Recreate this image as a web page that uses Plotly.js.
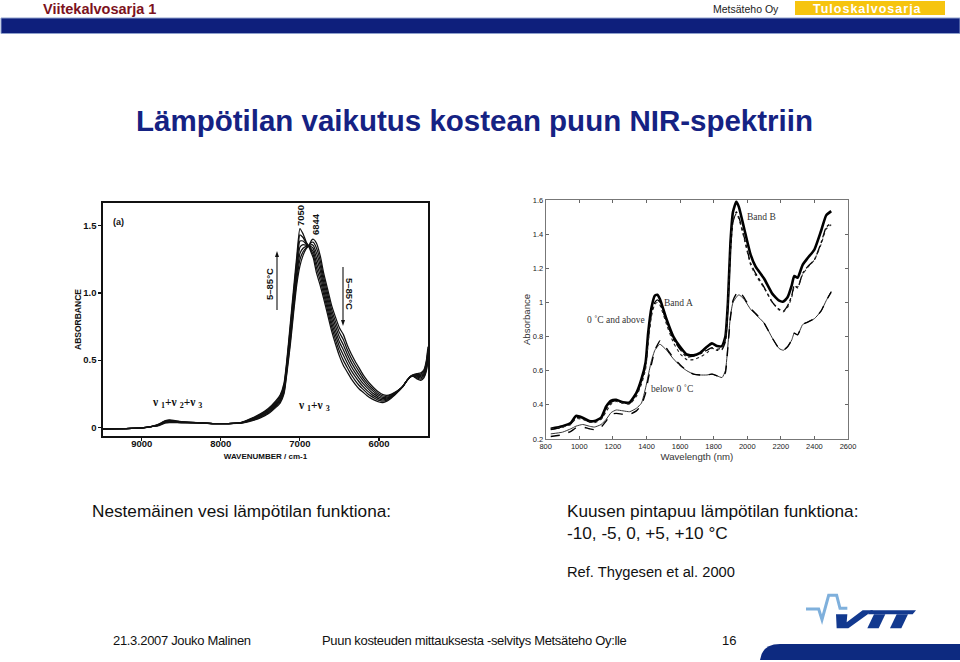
<!DOCTYPE html>
<html><head><meta charset="utf-8">
<script src="https://cdn.plot.ly/plotly-3.0.1.min.js"></script>
<style>html,body{margin:0;padding:0;background:#fff}#c{width:960px;height:662px}</style>
</head><body><div id="c"></div>
<script>
// Left panel: liquid water, wavenumber (cm-1)
const wavenumber=[9490,9200,9000,8900,8800,8700,8650,8500,8300,8100,7900,7750,7600,7500,7400,7300,7250,7200,7165,7120,7080,7040,7000,6960,6920,6890,6850,6830,6790,6740,6700,6650,6600,6550,6500,6450,6400,6350,6300,6250,6200,6150,6100,6050,6000,5950,5900,5850,5800,5750,5700,5650,5600,5570,5520,5470,5430,5400,5380];
const t85=[-.012,-.01,-.005,.002,.02,.05,.055,.042,.035,.028,.028,.035,.07,.1,.14,.2,.24,.33,.5,.78,1.03,1.27,1.48,1.44,1.38,1.35,1.29,1.26,1.15,1.05,.96,.84,.72,.62,.53,.46,.41,.36,.32,.285,.26,.235,.215,.2,.188,.184,.195,.215,.24,.27,.3,.345,.375,.38,.36,.35,.37,.42,.5];
const t72=[-.012,-.01,-.005,.002,.018,.047,.052,.04,.035,.028,.028,.034,.067,.095,.133,.192,.23,.317,.483,.753,1.0,1.235,1.433,1.413,1.372,1.35,1.308,1.283,1.187,1.087,.992,.872,.752,.653,.565,.498,.443,.391,.348,.311,.282,.254,.232,.214,.2,.194,.202,.22,.243,.272,.301,.345,.376,.382,.367,.359,.38,.433,.517];
const t58=[-.012,-.01,-.005,.003,.017,.044,.048,.039,.034,.028,.028,.033,.063,.09,.127,.183,.22,.303,.467,.727,.97,1.2,1.387,1.387,1.363,1.35,1.325,1.307,1.223,1.123,1.023,.903,.783,.687,.6,.537,.477,.422,.377,.337,.303,.273,.248,.228,.212,.204,.209,.225,.247,.273,.302,.345,.377,.383,.373,.368,.39,.447,.533];
const t45=[-.012,-.01,-.005,.003,.015,.041,.045,.038,.034,.028,.028,.033,.06,.085,.12,.175,.21,.29,.45,.7,.94,1.165,1.34,1.36,1.355,1.35,1.343,1.33,1.26,1.16,1.055,.935,.815,.72,.635,.575,.51,.453,.405,.363,.325,.293,.265,.243,.224,.214,.217,.23,.25,.275,.303,.345,.378,.385,.38,.378,.4,.46,.55];
const t32=[-.012,-.01,-.005,.003,.013,.038,.042,.036,.033,.028,.028,.032,.057,.08,.113,.167,.2,.277,.433,.673,.91,1.13,1.293,1.333,1.347,1.35,1.36,1.353,1.297,1.197,1.087,.967,.847,.753,.67,.613,.543,.483,.433,.388,.347,.312,.282,.257,.236,.223,.224,.235,.253,.277,.303,.345,.378,.387,.387,.387,.41,.473,.567];
const t18=[-.012,-.01,-.005,.004,.012,.035,.038,.035,.033,.028,.028,.031,.053,.075,.107,.158,.19,.263,.417,.647,.88,1.095,1.247,1.307,1.338,1.35,1.378,1.377,1.333,1.233,1.118,.998,.878,.787,.705,.652,.577,.514,.462,.414,.368,.331,.298,.271,.248,.233,.231,.24,.257,.278,.304,.345,.379,.388,.393,.396,.42,.487,.583];
const t5=[-.012,-.01,-.005,.004,.01,.032,.035,.033,.032,.028,.027,.03,.05,.07,.1,.15,.18,.25,.4,.62,.85,1.06,1.2,1.28,1.33,1.35,1.395,1.4,1.37,1.27,1.15,1.03,.91,.82,.74,.69,.61,.545,.49,.44,.39,.35,.315,.285,.26,.243,.238,.245,.26,.28,.305,.345,.38,.39,.4,.405,.43,.5,.6];
// Right panel: spruce wood surface, wavelength (nm)
const wavelength=[830,900,950,980,1020,1060,1090,1130,1160,1190,1220,1260,1300,1340,1370,1395,1410,1430,1450,1465,1480,1520,1560,1600,1640,1680,1720,1760,1790,1820,1850,1870,1885,1900,1915,1935,1950,1980,2020,2050,2100,2150,2190,2215,2240,2265,2280,2300,2330,2360,2400,2440,2470,2500];
const plus10=[.26,.275,.295,.335,.325,.305,.305,.325,.39,.425,.43,.415,.415,.47,.55,.65,.82,.97,1.04,1.045,1.02,.9,.8,.74,.695,.69,.705,.74,.76,.745,.745,.8,1.0,1.35,1.53,1.59,1.56,1.44,1.28,1.21,1.14,1.05,1.01,1.005,1.03,1.1,1.155,1.145,1.22,1.26,1.31,1.42,1.51,1.535];
const plus5=[.255,.27,.29,.325,.32,.3,.3,.32,.375,.415,.425,.41,.41,.46,.535,.63,.78,.94,1.0,1.015,1.0,.885,.785,.725,.68,.685,.7,.72,.735,.72,.725,.77,.97,1.3,1.47,1.53,1.5,1.39,1.23,1.17,1.09,1.0,.96,.95,.98,1.04,1.1,1.085,1.17,1.21,1.25,1.35,1.44,1.465];
const zero=[.26,.27,.285,.32,.315,.3,.295,.315,.36,.405,.42,.41,.405,.45,.52,.61,.76,.92,.99,1.0,.985,.87,.765,.7,.665,.665,.68,.705,.73,.725,.735,.79,1.0,1.32,1.48,1.52,1.49,1.38,1.22,1.16,1.085,1.0,.955,.945,.97,1.03,1.09,1.09,1.165,1.205,1.25,1.34,1.43,1.455];
const minus5=[.23,.24,.26,.275,.285,.275,.27,.285,.315,.355,.37,.365,.36,.38,.41,.5,.57,.66,.72,.74,.755,.72,.67,.63,.6,.58,.575,.575,.58,.57,.56,.6,.75,.92,1.0,1.03,1.045,1.02,.96,.93,.88,.79,.73,.72,.74,.78,.82,.81,.87,.885,.905,.95,1.01,1.065];
const minus10=[.215,.225,.245,.265,.27,.26,.255,.27,.305,.345,.35,.345,.345,.365,.4,.47,.55,.64,.72,.75,.775,.73,.675,.635,.6,.58,.575,.575,.58,.57,.56,.59,.74,.91,1.01,1.05,1.065,1.03,.965,.935,.88,.79,.73,.72,.74,.78,.82,.81,.87,.885,.905,.95,1.01,1.06];
const leftTicks=[9000,8000,7000,6000];
const leftYTicks=[0,0.5,1,1.5];
const leftYLabels=['0','0.5','1.0','1.5'];
const rightXTicks=[800,1000,1200,1400,1600,1800,2000,2200,2400,2600];
const rightYTicks=[0.2,0.4,0.6,0.8,1,1.2,1.4,1.6];
const rightYLabels=['0.2','0.4','0.6','0.8','1','1.2','1.4','1.6'];

const X=p=>p/960, Y=p=>1-p/662;
const sans='"Liberation Sans",Arial,sans-serif', serif='"Liberation Serif",serif';
const family=[['85 °C',t85],['72 °C',t72],['58 °C',t58],['45 °C',t45],['32 °C',t32],['18 °C',t18],['5 °C',t5]];
const traces=family.map(([n,v])=>({type:'scatter',mode:'lines',name:n,x:wavenumber,y:v,xaxis:'x',yaxis:'y',
  line:{color:'#111',width:1.25,shape:'spline',smoothing:.5}}));
const spec=[['+10 °C',plus10,2.6,'solid','#000'],['+5 °C',plus5,1.3,'dashdot','#000'],['0 °C',zero,1.1,'dot','#222'],['-5 °C',minus5,1,'solid','#333'],['-10 °C',minus10,1.4,'dash','#000']];
spec.forEach(([n,v,w,d,c])=>traces.push({type:'scatter',mode:'lines',name:n,x:wavelength,y:v,xaxis:'x2',yaxis:'y2',
  line:{color:c,width:w,dash:d,shape:'spline',smoothing:.5}}));

const note=(t,x,y,o={})=>Object.assign({xref:'paper',yref:'paper',x:X(x-2),y:Y(y),text:t,showarrow:false,xanchor:'left',yanchor:'middle',align:'left',
  font:{family:sans,size:17.2,color:'#111'}},o);
const nu='<b>ν <sub>1</sub>+ν <sub>2</sub>+ν <sub>3</sub></b>', nu2='<b>ν <sub>1</sub>+ν <sub>3</sub></b>';
const bf=(s,c='#111')=>({family:sans,size:s,color:c});
const sf={family:serif,size:9.5,color:'#333'};
const annotations=[
 note('<b>Viitekalvosarja 1</b>',43,9,{font:bf(14.5,'#7c1220')}),
 note('Metsäteho Oy',713,9,{font:bf(10.5,'#222')}),
 note('<b>Tuloskalvosarja</b>',813,8.5,{font:bf(12.5,'#fff')}),
 note('<b>Lämpötilan vaikutus kostean puun NIR-spektriin</b>',136,121,{font:bf(29.5,'#152283')}),
 note('Nestemäinen vesi lämpötilan funktiona:',92,511),
 note('Kuusen pintapuu lämpötilan funktiona:',567,511),
 note('-10, -5, 0, +5, +10 °C',567,533),
 note('Ref. Thygesen et al. 2000',567,572,{font:bf(14.7)}),
 note('21.3.2007 Jouko Malinen',113,640,{font:bf(13)}),
 note('Puun kosteuden mittauksesta -selvitys Metsäteho Oy:lle',322,640,{font:bf(13)}),
 note('16',722,640,{font:bf(13)}),
 note('<b>(a)</b>',113,222,{font:bf(9)}),
 note('<b>7050</b>',303,216,{xanchor:'center',align:'center',textangle:-90,font:bf(9.5)}),
 note('<b>6844</b>',317,224,{xanchor:'center',align:'center',textangle:-90,font:bf(9.5)}),
 note('<b>5–85°C</b>',271,284,{xanchor:'center',align:'center',textangle:-90,font:bf(9.5)}),
 note('<b>5–85°C</b>',352,294,{xanchor:'center',align:'center',textangle:90,font:bf(9.5)}),
 note(nu,152,403,{font:{family:serif,size:11.5,color:'#111'}}),
 note(nu2,298,406,{font:{family:serif,size:11.5,color:'#111'}}),
 note('Band A',664,303,{font:sf}),
 note('Band B',747,217,{font:sf}),
 note('0 ˚C and above',587,320,{font:sf}),
 note('below 0 ˚C',651,389,{font:sf}),
];
const poly=(pts,z=true)=>'M'+pts.map(([a,b])=>X(740+a/3)+','+Y(585+b/3)).join('L')+(z?'Z':'');
const ref={xref:'paper',yref:'paper'};
const stem=(x,y0,y1)=>({...ref,type:'line',x0:X(x),x1:X(x),y0:Y(y0),y1:Y(y1),line:{color:'#111',width:1.1}});
const head=(x,y,d)=>({...ref,type:'path',path:`M${X(x-2)},${Y(y)}L${X(x+2)},${Y(y)}L${X(x)},${Y(y+d)}Z`,fillcolor:'#111',line:{width:0}});
const shapes=[
 {...ref,type:'rect',x0:X(795),x1:X(945),y0:Y(15),y1:Y(1),fillcolor:'#f6c40f',line:{width:0},layer:'below'},
 {...ref,type:'rect',x0:X(1),x1:X(960),y0:Y(33.5),y1:Y(18),fillcolor:'#0e1f7c',line:{width:1,color:'#8ea0cc'},layer:'below'},
 {...ref,type:'path',path:`M${X(760)},${Y(660)}Q${X(762)},${Y(644)} ${X(780)},${Y(644)}L${X(960)},${Y(644)}L${X(960)},${Y(660)}Z`,fillcolor:'#0d2a80',line:{width:0}},
 {...ref,type:'path',path:poly([[198,72],[236,72],[246,104],[266,31],[290,31],[300,70],[322,70]],false),line:{color:'#7fb0dc',width:3}},
 {...ref,type:'path',path:poly([[288,88],[322,88],[320,112],[368,76],[400,76],[325,130],[290,130]]),fillcolor:'#12398f',line:{width:0}},
 {...ref,type:'path',path:poly([[392,76],[528,76],[518,88],[384,88]]),fillcolor:'#12398f',line:{width:0}},
 {...ref,type:'path',path:poly([[402,88],[436,88],[416,130],[382,130]]),fillcolor:'#12398f',line:{width:0}},
 {...ref,type:'path',path:poly([[470,88],[504,88],[484,130],[450,130]]),fillcolor:'#12398f',line:{width:0}},
 stem(277,310,254), head(277,257,-6), stem(343,267,323), head(343,320,6),
];
const layout={width:960,height:662,margin:{l:0,r:0,t:0,b:0},paper_bgcolor:'#fff',plot_bgcolor:'#fff',showlegend:false,annotations,shapes,
 xaxis:{domain:[X(103),X(428)],range:[9490,5380],autorange:false,tickvals:leftTicks,ticks:'outside',ticklen:3,tickwidth:1.2,tickcolor:'#111',ticklabelstandoff:-5,showgrid:false,zeroline:false,
   showline:true,mirror:true,linecolor:'#111',linewidth:1.6,tickfont:{family:sans,size:9.5,color:'#111',weight:700},
   title:{text:'<b>WAVENUMBER / cm-1</b>',standoff:5,font:{family:sans,size:8,color:'#111'}}},
 yaxis:{domain:[Y(436),Y(203)],range:[-.065,1.67],autorange:false,tickvals:leftYTicks,ticktext:leftYLabels,ticks:'outside',ticklen:3,tickwidth:1.2,tickcolor:'#111',showgrid:false,zeroline:false,
   showline:true,mirror:true,linecolor:'#111',linewidth:1.6,tickfont:{family:sans,size:9.5,color:'#111',weight:700},
   title:{text:'<b>ABSORBANCE</b>',standoff:0,font:{family:sans,size:8.5,color:'#111'}}},
 xaxis2:{anchor:'y2',domain:[X(545.7),X(848)],range:[800,2600],autorange:false,tickvals:rightXTicks,ticks:'inside',ticklen:3,tickwidth:1,tickcolor:'#666',showgrid:false,zeroline:false,
   showline:true,mirror:'ticks',linecolor:'#777',linewidth:1,tickfont:{family:sans,size:7.5,color:'#222'},
   title:{text:'Wavelength (nm)',standoff:0,font:{family:sans,size:9.6,color:'#333'}}},
 yaxis2:{anchor:'x2',domain:[Y(439),Y(200)],range:[.2,1.6],autorange:false,tickvals:rightYTicks,ticktext:rightYLabels,ticks:'inside',ticklen:3,tickwidth:1,tickcolor:'#666',showgrid:false,zeroline:false,
   showline:true,mirror:'ticks',linecolor:'#777',linewidth:1,tickfont:{family:sans,size:7.5,color:'#222'},
   title:{text:'Absorbance',standoff:0,font:{family:sans,size:9.6,color:'#333'}}}
};
Plotly.newPlot('c',traces,layout,{displayModeBar:false,staticPlot:true}).then(()=>{
  document.querySelectorAll('.annotation-text').forEach(t=>{
    const s=t.textContent;
    if(s==='Tuloskalvosarja')t.style.letterSpacing='1px';
    if(s.startsWith('Puun')||s.startsWith('21.3'))t.style.letterSpacing='-.33px';
  });
});
</script></body></html>
